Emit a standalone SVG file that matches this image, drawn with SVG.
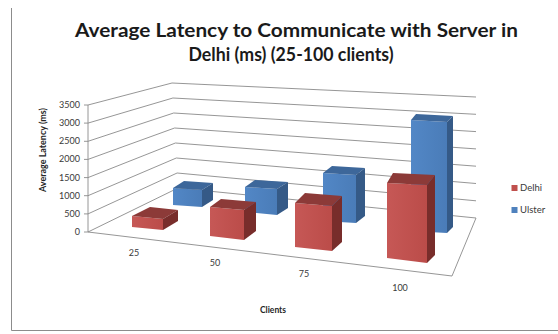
<svg xmlns="http://www.w3.org/2000/svg" width="558" height="334" viewBox="0 0 558 334">
<style>
.frame{stroke:#8c8c8c;stroke-width:1;fill:none}
.grid{stroke:#8a8a8a;stroke-width:0.9;fill:none}
.tick{font-family:Lato,"Liberation Sans",Arial,sans-serif;font-size:9px;fill:#3a3a3a}
.cat{font-family:Lato,"Liberation Sans",Arial,sans-serif;font-size:9px;fill:#3a3a3a;text-anchor:middle}
.axt{font-family:Lato,"Liberation Sans",Arial,sans-serif;font-size:8.5px;font-weight:bold;fill:#262626;text-anchor:middle}
.title{font-family:Lato,"Liberation Sans",Arial,sans-serif;font-size:18.5px;font-weight:bold;fill:#1a1a1a;text-anchor:middle}
.leg{font-family:Lato,"Liberation Sans",Arial,sans-serif;font-size:9.5px;fill:#3a3a3a}
.rf{fill:url(#redg)}.rt{fill:#8c3a38}.rs{fill:#782d2b}
.bf{fill:url(#blueg)}.bt{fill:#3d679a}.bs{fill:#355a87}
</style>
<defs>
<linearGradient id="redg" x1="0" y1="0" x2="1" y2="0"><stop offset="0" stop-color="#c65856"/><stop offset="1" stop-color="#bb4c49"/></linearGradient>
<linearGradient id="blueg" x1="0" y1="0" x2="1" y2="0"><stop offset="0" stop-color="#5287c6"/><stop offset="1" stop-color="#4a7cb8"/></linearGradient>
</defs>
<rect width="558" height="334" fill="#fff"/>
<path class="frame" d="M11.5 8V330.5H558"/>
<g id="title">
<text class="title" x="296.5" y="37" textLength="443" lengthAdjust="spacingAndGlyphs">Average Latency to Communicate with Server in</text>
<text class="title" x="291" y="61" textLength="205" lengthAdjust="spacingAndGlyphs">Delhi (ms) (25-100 clients)</text>
</g>
<g id="walls">
<polyline class="grid" points="88,105 172,83 476,97"/>
<polyline class="grid" points="88,123.1 172.9,98 476,114.3"/>
<polyline class="grid" points="88,141.3 173.7,113 476,131.6"/>
<polyline class="grid" points="88,159.4 174.6,128 476,148.9"/>
<polyline class="grid" points="88,177.6 175.4,143 476,166.2"/>
<polyline class="grid" points="88,195.7 176.3,158 476,183.5"/>
<polyline class="grid" points="88,213.9 177.1,173 476,200.8"/>
<polyline class="grid" points="88,232 178,188 476,218"/>
<path class="grid" d="M88 232L452 276L476 218"/>
<path class="grid" d="M88 105V232M84 105H88M84 123.1H88M84 141.3H88M84 159.4H88M84 177.6H88M84 195.7H88M84 213.9H88M84 232H88"/>
</g>
<g id="yaxis">
<text class="tick" x="80" y="108" text-anchor="end">3500</text>
<text class="tick" x="80" y="126.1" text-anchor="end">3000</text>
<text class="tick" x="80" y="144.3" text-anchor="end">2500</text>
<text class="tick" x="80" y="162.4" text-anchor="end">2000</text>
<text class="tick" x="80" y="180.6" text-anchor="end">1500</text>
<text class="tick" x="80" y="198.7" text-anchor="end">1000</text>
<text class="tick" x="80" y="216.9" text-anchor="end">500</text>
<text class="tick" x="80" y="235" text-anchor="end">0</text>
<text class="axt" transform="translate(46,150) rotate(-90)" textLength="84" lengthAdjust="spacingAndGlyphs">Average Latency (ms)</text>
</g>
<g id="ulster-bars">
<g id="ulster-25"><polygon class="bf" points="173,188 202,190 202,207 173,205"/><polygon class="bt" points="173,188 184,181 213,183 202,190"/><polygon class="bs" points="202,190 213,183 213,200 202,207"/></g>
<g id="ulster-50"><polygon class="bf" points="245,187 277,189 277,215 245,212"/><polygon class="bt" points="245,187 255,180 288,182 277,189"/><polygon class="bs" points="277,189 288,182 288,208 277,215"/></g>
<g id="ulster-75"><polygon class="bf" points="323,173 356,175 356,223 323,221"/><polygon class="bt" points="323,173 332,166 365,168 356,175"/><polygon class="bs" points="356,175 365,168 365,216 356,223"/></g>
<g id="ulster-100"><polygon class="bf" points="411,120 447,122 447,233 411,231"/><polygon class="bt" points="411,120 416,114 453,116 447,122"/><polygon class="bs" points="447,122 453,116 453,227 447,233"/></g>
</g>
<g id="delhi-bars">
<g id="delhi-25"><polygon class="rf" points="132,216 163,219 163,230 132,227"/><polygon class="rt" points="132,216 150,207 178,210 163,219"/><polygon class="rs" points="163,219 178,210 178,221 163,230"/></g>
<g id="delhi-50"><polygon class="rf" points="210,207 244,210 244,240 210,236"/><polygon class="rt" points="210,207 221,199 256,202 244,210"/><polygon class="rs" points="244,210 256,202 256,231 244,240"/></g>
<g id="delhi-75"><polygon class="rf" points="295,203 332,206 332,251 295,247"/><polygon class="rt" points="295,203 305,193 342,196 332,206"/><polygon class="rs" points="332,206 342,196 342,242 332,251"/></g>
<g id="delhi-100"><polygon class="rf" points="387,183 427,185 427,263 387,258"/><polygon class="rt" points="387,183 393,173 435,175 427,185"/><polygon class="rs" points="427,185 435,175 435,255 427,263"/></g>
</g>
<g id="xaxis">
<text class="cat" x="134" y="256">25</text>
<text class="cat" x="215" y="266">50</text>
<text class="cat" x="304" y="277">75</text>
<text class="cat" x="400" y="291">100</text>
<text class="axt" x="273" y="313">Clients</text>
</g>
<g id="legend">
<rect x="511.5" y="185" width="6" height="6" fill="#c0504d"/>
<text class="leg" x="520" y="191">Delhi</text>
<rect x="511.5" y="207" width="6" height="6" fill="#4f81bd"/>
<text class="leg" x="520" y="213">Ulster</text>
</g>
</svg>
